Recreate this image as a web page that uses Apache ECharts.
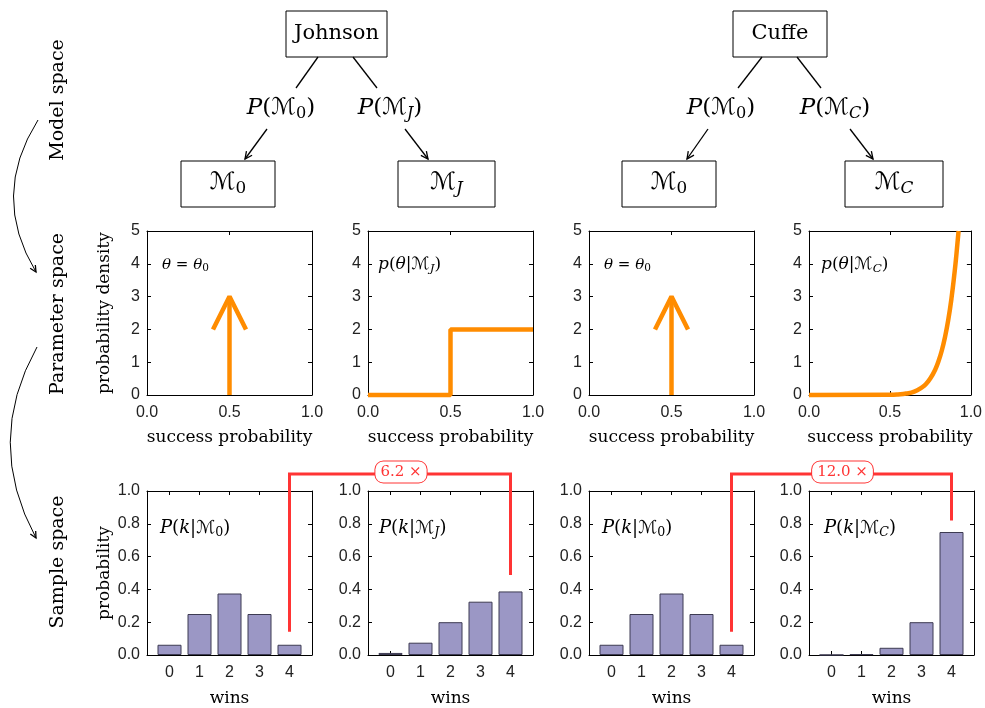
<!DOCTYPE html>
<html>
<head>
<meta charset="utf-8">
<script src="https://cdn.jsdelivr.net/npm/echarts@6/dist/echarts.min.js"></script>
<style>html,body{margin:0;padding:0;background:#fff;}</style>
</head>
<body>
<div id="container" style="width:985px;height:708px;"></div>
<script>
// data
var wins = [0, 1, 2, 3, 4];
var probM0 = [0.0625, 0.25, 0.375, 0.25, 0.0625];
var probMJ = [0.0125, 0.075, 0.2, 0.325, 0.3875];
var probMC = [0.0005, 0.005, 0.044, 0.2, 0.75];
var spikeLine = [[0.5, 0], [0.5, 3]];
var spikeHead = [[0.4, 2], [0.5, 3], [0.6, 2]];
var stepMJ = [[0, 0], [0.5, 0], [0.5, 2], [1, 2]];
var curveMC = [[0, 0], [0.5, 0.006], [0.55, 0.017], [0.6, 0.044], [0.65, 0.105], [0.7, 0.24],
  [0.72, 0.32], [0.75, 0.51], [0.78, 0.78], [0.8, 1.03], [0.82, 1.35], [0.84, 1.76],
  [0.86, 2.28], [0.88, 2.94], [0.9, 3.77], [0.91, 4.25], [0.924, 5.0]];
var factors = ['6.2', '12.0'];

var serif = 'DejaVu Serif, DejaVu Sans, serif';
var sans = 'Liberation Sans, Arial, sans-serif';
var orange = '#ff8c00';
var red = '#ff3434';
var gridLefts = [147, 368, 589, 809];

var chart = echarts.init(document.getElementById('container'));

function mathRich(size, color) {
  var base = {fontFamily: serif, fontSize: size, color: color || '#000', lineHeight: size * 1.2};
  return {
    r: Object.assign({}, base),
    i: Object.assign({}, base, {fontStyle: 'italic'}),
    s: Object.assign({}, base, {fontSize: size * 0.7, lineHeight: size * 0.42, verticalAlign: 'bottom'}),
    si: Object.assign({}, base, {fontSize: size * 0.7, lineHeight: size * 0.42, verticalAlign: 'bottom', fontStyle: 'italic'})
  };
}

var grids = [], xAxes = [], yAxes = [], series = [];
for (var g = 0; g < 8; g++) {
  var upper = g < 4;
  grids.push({left: gridLefts[g % 4], top: upper ? 231 : 491, width: 165, height: 164});
}
// main axes 0..7, mirror axes 8..15
for (var m = 0; m < 2; m++) {
  for (var g = 0; g < 8; g++) {
    var upper = g < 4;
    var mirror = m === 1;
    var xa = {
      type: 'value', gridIndex: g, position: mirror ? 'top' : 'bottom',
      min: upper ? 0 : -0.75, max: upper ? 1 : 4.75,
      axisLine: {onZero: false, lineStyle: {color: '#000', width: 1}},
      axisTick: {inside: true, length: 4, lineStyle: {color: '#000'}},
      axisLabel: {show: !mirror, color: '#222', fontFamily: sans, fontSize: 16, margin: 10,
        formatter: upper ? function (v) { return v.toFixed(1); } : '{value}'},
      splitLine: {show: false}
    };
    if (upper) {
      xa.interval = 0.5;
    } else {
      xa.axisLabel.customValues = wins;
      xa.axisTick.customValues = wins;
    }
    if (!mirror) {
      xa.name = upper ? 'success probability' : 'wins';
      xa.nameLocation = 'middle';
      xa.nameGap = upper ? 34 : 35;
      xa.nameTextStyle = {fontFamily: serif, fontSize: 17, color: '#000'};
    }
    xAxes.push(xa);

    var ya = {
      type: 'value', gridIndex: g, position: mirror ? 'right' : 'left',
      min: 0, max: upper ? 5 : 1, interval: upper ? 1 : 0.2,
      axisLine: {onZero: false, lineStyle: {color: '#000', width: 1}},
      axisTick: {inside: true, length: 4, lineStyle: {color: '#000'}},
      axisLabel: {show: !mirror, color: '#222', fontFamily: sans, fontSize: 16, margin: 7,
        formatter: upper ? '{value}' : function (v) { return v.toFixed(1); }},
      splitLine: {show: false}
    };
    if (!mirror && (g === 0 || g === 4)) {
      ya.name = g === 0 ? 'probability density' : 'probability';
      ya.nameLocation = 'middle';
      ya.nameGap = 34;
      ya.nameTextStyle = {fontFamily: serif, fontSize: 17, color: '#000'};
    }
    yAxes.push(ya);
  }
}

function orangeLine(g, data, smooth) {
  return {
    type: 'line', xAxisIndex: g, yAxisIndex: g, data: data, smooth: !!smooth,
    showSymbol: false, clip: false, animation: false,
    lineStyle: {color: orange, width: 4.5}
  };
}
function barSeries(g, values) {
  return {
    type: 'bar', xAxisIndex: g, yAxisIndex: g, barWidth: 24, animation: false,
    data: wins.map(function (k, i) { return [k, values[i]]; }),
    itemStyle: {color: '#9b97c5', borderColor: '#3d3b52', borderWidth: 1}
  };
}
series.push(orangeLine(0, spikeLine), orangeLine(0, spikeHead));
series.push(orangeLine(1, stepMJ));
series.push(orangeLine(2, spikeLine), orangeLine(2, spikeHead));
series.push(orangeLine(3, curveMC, true));
series.push(barSeries(4, probM0), barSeries(5, probMJ), barSeries(6, probM0), barSeries(7, probMC));

chart.setOption({
  backgroundColor: '#fff',
  animation: false,
  grid: grids,
  xAxis: xAxes,
  yAxis: yAxes,
  series: series
});

// ---- diagram decorations ----
var els = [];
function text(x, y, str, size, opts) {
  opts = opts || {};
  els.push({
    type: 'text', x: x, y: y, rotation: opts.rotation || 0, z: 20,
    style: Object.assign({
      text: str, fill: opts.color || '#000', font: size + 'px ' + serif,
      rich: mathRich(size, opts.color),
      align: opts.align || 'center', verticalAlign: 'middle',
      textAlign: opts.align || 'center', textVerticalAlign: 'middle'
    }, opts.extra || {})
  });
}
function box(x, y, w, h) {
  els.push({type: 'rect', z: 15, shape: {x: x, y: y, width: w, height: h},
    style: {fill: '#fff', stroke: '#000', lineWidth: 1}});
}
function line(x1, y1, x2, y2) {
  els.push({type: 'line', z: 15, shape: {x1: x1, y1: y1, x2: x2, y2: y2},
    style: {stroke: '#000', lineWidth: 1.3}});
}
function head(x, y, dx, dy, len) {
  var a = Math.atan2(dy, dx), w = 0.45;
  els.push({type: 'polyline', z: 15, shape: {points: [
    [x - len * Math.cos(a - w), y - len * Math.sin(a - w)], [x, y],
    [x - len * Math.cos(a + w), y - len * Math.sin(a + w)]]},
    style: {stroke: '#000', lineWidth: 1.3, fill: null}});
}
function arrow(x1, y1, x2, y2) {
  line(x1, y1, x2, y2);
  head(x2, y2, x2 - x1, y2 - y1, 8);
}

var calM = '\u2133';
function pModel(sub, italicSub) {
  return '{i|P}{r|(}{r|' + calM + '}{' + (italicSub ? 'si' : 's') + '|' + sub + '}{r|)}';
}
function model(sub, italicSub) {
  return '{r|' + calM + '}{' + (italicSub ? 'si' : 's') + '|' + sub + '}';
}

// left group (Johnson)
box(286, 11, 101, 46); text(336.5, 34, 'Johnson', 21);
line(318, 57, 296, 88); line(353, 57, 377, 88);
text(281, 108, pModel('0'), 23); text(390, 108, pModel('J', true), 23);
arrow(267, 129, 245, 159); arrow(405, 129, 428, 159);
box(181, 161, 94, 46); text(228, 183, model('0'), 24);
box(398, 161, 97, 46); text(446.5, 183, model('J', true), 24);

// right group (Cuffe)
box(733, 11, 94, 46); text(780, 34, 'Cuffe', 21);
line(762, 57, 738, 88); line(797, 57, 821, 88);
text(721, 108, pModel('0'), 23); text(835, 108, pModel('C', true), 23);
arrow(708, 129, 687, 159); arrow(850, 129, 873, 159);
box(622, 161, 94, 46); text(669, 183, model('0'), 24);
box(845, 161, 98, 46); text(894, 183, model('C', true), 24);

// left side labels and curved arrows
text(58, 100, 'Model space', 19, {rotation: Math.PI / 2});
text(58, 314, 'Parameter space', 19, {rotation: Math.PI / 2});
text(58, 562, 'Sample space', 19, {rotation: Math.PI / 2});
els.push({type: 'bezierCurve', z: 15, shape: {x1: 38, y1: 120, cpx1: -10, cpy1: 196, x2: 36, y2: 272},
  style: {stroke: '#000', lineWidth: 1, fill: null}});
head(36, 272, 46, 76, 7);
els.push({type: 'bezierCurve', z: 15, shape: {x1: 37, y1: 347, cpx1: -16, cpy1: 442, x2: 36, y2: 538},
  style: {stroke: '#000', lineWidth: 1, fill: null}});
head(36, 538, 52, 96, 7);

// in-plot labels
text(gridLefts[0] + 15, 265, '{i|θ}{r| = }{i|θ}{s|0}', 15, {align: 'left'});
text(gridLefts[1] + 10, 265, '{i|p}{r|(}{i|θ}{r||' + calM + '}{si|J}{r|)}', 17, {align: 'left'});
text(gridLefts[2] + 15, 265, '{i|θ}{r| = }{i|θ}{s|0}', 15, {align: 'left'});
text(gridLefts[3] + 12, 265, '{i|p}{r|(}{i|θ}{r||' + calM + '}{si|C}{r|)}', 17, {align: 'left'});
text(gridLefts[0] + 13, 528, '{i|P}{r|(}{i|k}{r||' + calM + '}{s|0}{r|)}', 18, {align: 'left'});
text(gridLefts[1] + 11, 528, '{i|P}{r|(}{i|k}{r||' + calM + '}{si|J}{r|)}', 18, {align: 'left'});
text(gridLefts[2] + 13, 528, '{i|P}{r|(}{i|k}{r||' + calM + '}{s|0}{r|)}', 18, {align: 'left'});
text(gridLefts[3] + 15, 528, '{i|P}{r|(}{i|k}{r||' + calM + '}{si|C}{r|)}', 18, {align: 'left'});

// red Bayes factor connectors
var pairs = [[4, 5, probM0[4] + 0.08, probMJ[4] + 0.1], [6, 7, probM0[4] + 0.08, probMC[4] + 0.07]];
pairs.forEach(function (p, i) {
  var a = chart.convertToPixel({xAxisIndex: p[0], yAxisIndex: p[0]}, [4, p[2]]);
  var b = chart.convertToPixel({xAxisIndex: p[1], yAxisIndex: p[1]}, [4, p[3]]);
  var topY = chart.convertToPixel({yAxisIndex: p[0]}, 1) - 17;
  els.push({type: 'polyline', z: 16, shape: {points: [[a[0], a[1]], [a[0], topY], [b[0], topY], [b[0], b[1]]]},
    style: {stroke: red, lineWidth: 3, fill: null}});
  text((a[0] + b[0]) / 2 + 1, topY - 2, '{r|' + factors[i] + '}{r| ×}', 15, {color: red, extra: {
    backgroundColor: '#fff', borderColor: red, borderWidth: 1, borderRadius: 8, padding: [2, 5, 1, 5]}});
});

chart.setOption({graphic: {elements: els}});
</script>
</body>
</html>
